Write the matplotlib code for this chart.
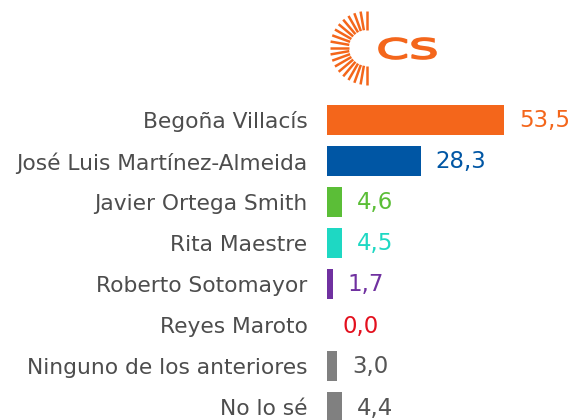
import numpy as np
import matplotlib.pyplot as plt
from matplotlib.patches import PathPatch
from matplotlib.textpath import TextPath
from matplotlib.font_manager import FontProperties
from matplotlib.transforms import Affine2D

candidates = ["Begoña Villacís", "José Luis Martínez-Almeida", "Javier Ortega Smith",
              "Rita Maestre", "Roberto Sotomayor", "Reyes Maroto",
              "Ninguno de los anteriores", "No lo sé"]
values = [53.5, 28.3, 4.6, 4.5, 1.7, 0.0, 3.0, 4.4]
colors = ["#F4661B", "#0056A4", "#5BBE37", "#1ED8C3", "#7031A0", "#E3101E", "#808080", "#808080"]
text_colors = ["#F4661B", "#0056A4", "#5BBE37", "#1ED8C3", "#7031A0", "#E3101E", "#555555", "#555555"]

W, H = 573, 420
fig = plt.figure(figsize=(W / 100, H / 100), dpi=100)

# main bar axes, placed in pixels
left, right, top, bottom = 327, 573, 100, 420
ax = fig.add_axes([left / W, 1 - bottom / H, (right - left) / W, (bottom - top) / H])
px_per_unit = 3.31
row = 41.0
ypos = np.arange(len(values))
ax.barh(ypos, values, height=30 / row, color=colors)
ax.set_xlim(0, (right - left) / px_per_unit)
ax.set_ylim((bottom - 120) / row, -(120 - top) / row)
ax.set_yticks(ypos)
ax.set_yticklabels(candidates, fontsize=15.7, color="#4d4d4d", family="DejaVu Sans")
ax.tick_params(axis="y", length=0, pad=14)
ax.set_xticks([])
for s in ax.spines.values():
    s.set_visible(False)

for y, v, c in zip(ypos, values, text_colors):
    ax.annotate(f"{v:.1f}".replace(".", ","), (v, y), xytext=(15, -1), textcoords="offset pixels",
                ha="left", va="center", fontsize=16.5, color=c, family="DejaVu Sans")

# logo
lax = fig.add_axes([0, 0, 1, 1], zorder=-1)
lax.set_xlim(0, W)
lax.set_ylim(H, 0)
lax.axis("off")
cx, cy = 367, 48
r_in, r_out = 18, 37
orange = "#F4661B"
for a in np.linspace(90, 270, 19):
    t = np.radians(a)
    lax.plot([cx + r_in * np.cos(t), cx + r_out * np.cos(t)],
             [cy - r_in * np.sin(t), cy - r_out * np.sin(t)],
             color=orange, lw=1.8, solid_capstyle="butt")

tp = TextPath((0, 0), "CS", size=10, prop=FontProperties(family="DejaVu Sans"))
ext = tp.get_extents()
x0, x1, y0, y1 = 379, 436, 38, 59
tr = (Affine2D().translate(-ext.x0, -ext.y0)
      .scale((x1 - x0) / ext.width, -(y1 - y0) / ext.height)
      .translate(x0, y1))
lax.add_patch(PathPatch(tr.transform_path(tp), facecolor=orange, edgecolor=orange, lw=1.2))

fig.savefig("out.png", dpi=100)
